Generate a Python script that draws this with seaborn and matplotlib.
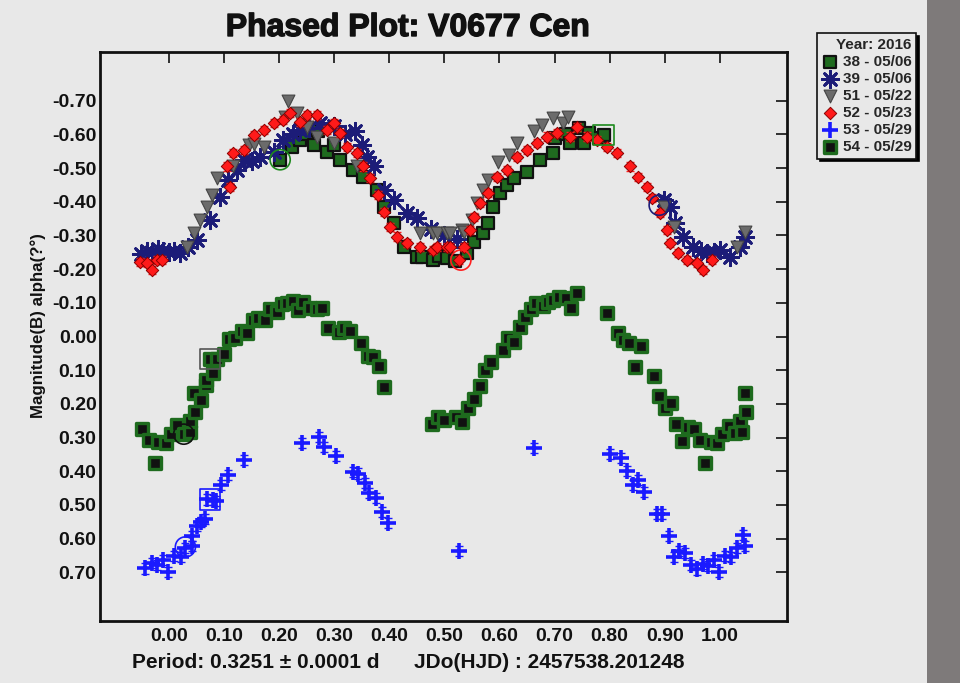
import numpy as np
import pandas as pd
import matplotlib
matplotlib.use("Agg")
import matplotlib.pyplot as plt
import matplotlib.patheffects as pe
from matplotlib import font_manager
from matplotlib.patches import Rectangle
import seaborn as sns

# Phase / magnitude values
p38 = [0.202, 0.223, 0.238, 0.245, 0.263, 0.27, 0.287, 0.30, 0.311, 0.335, 0.353, 0.378, 0.39,
       0.408, 0.426, 0.45, 0.46, 0.48, 0.49, 0.505, 0.52, 0.541, 0.553, 0.571, 0.58, 0.589, 0.601,
       0.614, 0.626, 0.65, 0.674, 0.698, 0.70, 0.72, 0.728, 0.744, 0.753, 0.762, 0.78, 0.789]
m38 = [-0.525, -0.564, -0.584, -0.60, -0.569, -0.61, -0.549, -0.57, -0.525, -0.495, -0.475, -0.435, -0.386,
       -0.336, -0.267, -0.237, -0.235, -0.227, -0.24, -0.232, -0.225, -0.247, -0.282, -0.307, -0.336, -0.386, -0.425,
       -0.45, -0.47, -0.49, -0.525, -0.544, -0.59, -0.60, -0.574, -0.619, -0.574, -0.604, -0.59, -0.599]

p39 = [-0.05, -0.04, -0.03, -0.02, -0.01, 0.0, 0.01, 0.021, 0.035, 0.051, 0.075, 0.093, 0.108, 0.124,
       0.136, 0.15, 0.166, 0.19, 0.208, 0.225, 0.238, 0.255, 0.275, 0.299, 0.32, 0.338, 0.35, 0.36,
       0.372, 0.39, 0.408, 0.432, 0.45, 0.475, 0.5, 0.523, 0.898, 0.91, 0.919, 0.934, 0.952, 0.965,
       0.977, 0.99, 1.0, 1.019, 1.037, 1.046]
m39 = [-0.245, -0.255, -0.25, -0.26, -0.255, -0.25, -0.255, -0.247, -0.265, -0.287, -0.346, -0.415, -0.465, -0.495,
       -0.525, -0.52, -0.534, -0.549, -0.584, -0.60, -0.614, -0.62, -0.634, -0.624, -0.60, -0.609, -0.57, -0.534,
       -0.505, -0.435, -0.406, -0.366, -0.351, -0.32, -0.30, -0.29, -0.406, -0.386, -0.336, -0.297, -0.267, -0.255,
       -0.247, -0.25, -0.257, -0.237, -0.267, -0.297]

p51 = [0.033, 0.045, 0.057, 0.069, 0.078, 0.087, 0.117, 0.145, 0.155, 0.172, 0.211, 0.217, 0.232, 0.251,
       0.269, 0.299, 0.341, 0.456, 0.48, 0.487, 0.505, 0.511, 0.532, 0.535, 0.55, 0.559, 0.571, 0.58,
       0.598, 0.617, 0.632, 0.662, 0.677, 0.698, 0.716, 0.725, 0.898, 0.916, 1.031, 1.046]
m51 = [-0.267, -0.307, -0.346, -0.386, -0.42, -0.47, -0.505, -0.569, -0.573, -0.564, -0.653, -0.698, -0.663, -0.623,
       -0.594, -0.574, -0.505, -0.307, -0.307, -0.307, -0.307, -0.307, -0.317, -0.311, -0.346, -0.396, -0.435, -0.465,
       -0.519, -0.539, -0.574, -0.609, -0.629, -0.648, -0.634, -0.653, -0.386, -0.326, -0.267, -0.311]

p52 = [-0.052, -0.04, -0.031, -0.022, -0.013, 0.105, 0.111, 0.117, 0.136, 0.154, 0.172, 0.19, 0.208, 0.22,
       0.238, 0.251, 0.269, 0.287, 0.299, 0.311, 0.323, 0.341, 0.353, 0.365, 0.38, 0.39, 0.402, 0.414,
       0.432, 0.456, 0.48, 0.487, 0.505, 0.511, 0.526, 0.535, 0.547, 0.553, 0.565, 0.58, 0.596, 0.614,
       0.632, 0.65, 0.668, 0.686, 0.704, 0.728, 0.741, 0.759, 0.777, 0.795, 0.813, 0.837, 0.852, 0.868,
       0.877, 0.892, 0.904, 0.91, 0.925, 0.94, 0.958, 0.97, 0.986]
m52 = [-0.222, -0.217, -0.198, -0.227, -0.227, -0.505, -0.445, -0.544, -0.554, -0.599, -0.614, -0.634, -0.643, -0.663,
       -0.638, -0.658, -0.658, -0.614, -0.634, -0.604, -0.564, -0.544, -0.505, -0.47, -0.42, -0.37, -0.326, -0.297,
       -0.277, -0.267, -0.257, -0.267, -0.267, -0.267, -0.227, -0.267, -0.317, -0.356, -0.396, -0.425, -0.475, -0.495,
       -0.534, -0.554, -0.574, -0.594, -0.604, -0.594, -0.623, -0.594, -0.584, -0.564, -0.544, -0.505, -0.475, -0.445,
       -0.411, -0.366, -0.317, -0.277, -0.247, -0.227, -0.217, -0.198, -0.227]

p53 = [-0.043, -0.031, -0.022, -0.010, -0.001, 0.009, 0.022, 0.030, 0.042, 0.042, 0.051, 0.058, 0.066,
       0.070, 0.080, 0.086, 0.095, 0.107, 0.137, 0.242, 0.272, 0.282, 0.303, 0.334, 0.344, 0.356, 0.364,
       0.376, 0.387, 0.397, 0.527, 0.662, 0.800, 0.821, 0.831, 0.842, 0.851, 0.863, 0.886, 0.895, 0.907,
       0.916, 0.926, 0.937, 0.948, 0.959, 0.969, 0.978, 0.990, 0.999, 1.010, 1.020, 1.031, 1.045, 1.042]
m53 = [0.689, 0.674, 0.679, 0.664, 0.699, 0.652, 0.656, 0.629, 0.623, 0.593, 0.563, 0.550, 0.543,
       0.484, 0.486, 0.488, 0.441, 0.412, 0.367, 0.316, 0.298, 0.329, 0.355, 0.402, 0.407, 0.436, 0.466,
       0.481, 0.521, 0.555, 0.637, 0.332, 0.350, 0.362, 0.399, 0.441, 0.426, 0.461, 0.528, 0.528, 0.593,
       0.656, 0.636, 0.644, 0.679, 0.692, 0.676, 0.682, 0.664, 0.699, 0.652, 0.656, 0.629, 0.623, 0.590]

p54 = [-0.048, -0.036, -0.026, -0.019, -0.005, 0.003, 0.015, 0.027, 0.038, 0.038, 0.048, 0.046, 0.059,
       0.068, 0.068, 0.080, 0.075, 0.088, 0.10, 0.110, 0.12, 0.133, 0.142, 0.153, 0.162, 0.174, 0.184,
       0.196, 0.205, 0.214, 0.225, 0.235, 0.244, 0.257, 0.269, 0.278, 0.288, 0.308, 0.317, 0.329, 0.349,
       0.361, 0.370, 0.381, 0.391, 0.477, 0.489, 0.50, 0.522, 0.532, 0.543, 0.553, 0.564, 0.574, 0.585,
       0.606, 0.615, 0.626, 0.637, 0.647, 0.658, 0.667, 0.679, 0.688, 0.698, 0.709, 0.721, 0.730, 0.741,
       0.795, 0.815, 0.824, 0.836, 0.857, 0.846, 0.880, 0.889, 0.901, 0.911, 0.921, 0.932, 0.943, 0.953,
       0.964, 0.973, 0.984, 0.995, 1.004, 1.016, 1.028, 1.037, 1.040, 1.048, 1.046]
m54 = [0.276, 0.308, 0.377, 0.313, 0.317, 0.29, 0.263, 0.29, 0.283, 0.25, 0.225, 0.169, 0.189,
       0.144, 0.128, 0.109, 0.068, 0.068, 0.052, 0.008, 0.005, -0.017, -0.01, -0.049, -0.056, -0.049, -0.081,
       -0.074, -0.097, -0.1, -0.106, -0.079, -0.103, -0.084, -0.081, -0.084, -0.024, -0.014, -0.024, -0.017, 0.018,
       0.058, 0.062, 0.088, 0.151, 0.26, 0.238, 0.248, 0.240, 0.253, 0.213, 0.186, 0.147, 0.1, 0.075,
       0.04, 0.005, 0.015, -0.029, -0.059, -0.081, -0.099, -0.091, -0.103, -0.108, -0.116, -0.113, -0.084, -0.128,
       -0.069, -0.01, 0.01, 0.018, 0.028, 0.092, 0.116, 0.177, 0.213, 0.197, 0.26, 0.31, 0.268, 0.276,
       0.308, 0.377, 0.313, 0.316, 0.29, 0.266, 0.288, 0.25, 0.283, 0.223, 0.169]

# highlighted points (hollow rings / boxes)
ring_x = [0.202, 0.789, 0.075, 0.027, 0.075, 0.030, 0.530, 0.890]
ring_y = [-0.525, -0.599, 0.068, 0.290, 0.484, 0.625, -0.227, -0.390]
ring_color = ['#1e8a1e', '#1e8a1e', '#555555', '#111111', '#1a1aff', '#1a1aff', '#ff2020', '#1c1c78']
ring_marker = ['o', 's', 's', 'o', 's', 'o', 'o', 'o']

x_ticks = [0.0, 0.1, 0.2, 0.3, 0.4, 0.5, 0.6, 0.7, 0.8, 0.9, 1.0]
y_ticks = [-0.7, -0.6, -0.5, -0.4, -0.3, -0.2, -0.1, 0.0, 0.1, 0.2, 0.3, 0.4, 0.5, 0.6, 0.7]

sns.set_style("white")
plt.rcParams['font.family'] = ['Liberation Sans', 'DejaVu Sans']
plt.rcParams['font.weight'] = 'bold'

# the reference uses a condensed bold face for the axis label and footer
installed = {f.name for f in font_manager.fontManager.ttflist}
if 'Liberation Sans Narrow' in installed:
    narrow = ['Liberation Sans Narrow', 'DejaVu Sans']
    ylab_size, foot_size = 14.8, 18.2
else:
    narrow = ['Liberation Sans', 'DejaVu Sans']
    ylab_size, foot_size = 12.2, 15

bg = '#e8e8e8'
ink = '#111111'
fig = plt.figure(figsize=(9.6, 6.83), dpi=100, facecolor=bg)
ax = fig.add_axes([100 / 960, 1 - 621 / 683, 687 / 960, 569 / 683])
ax.set_facecolor(bg)

# dark strip at the right edge
fig.patches.append(Rectangle((927 / 960, 0), 33 / 960, 1, transform=fig.transFigure,
                             facecolor='#7e7a7a', edgecolor='none', zorder=0))

sns.scatterplot(x=p38, y=m38, ax=ax, marker='s', s=78, color='#1f6b1f',
                edgecolor=ink, linewidth=1.6, label='38 - 05/06', zorder=3)
sns.scatterplot(x=p39, y=m39, ax=ax, marker=(8, 2, 0), s=140, color='#1c1c78',
                linewidth=2.0, label='39 - 05/06', zorder=4)
sns.scatterplot(x=p51, y=m51, ax=ax, marker='v', s=85, color='#6b6b6b',
                edgecolor='#444444', linewidth=0.8, label='51 - 05/22', zorder=5)
ax.errorbar(p52, m52, yerr=0.012, fmt='none', ecolor='#ff2020', elinewidth=1, capsize=3, zorder=5)
sns.scatterplot(x=p52, y=m52, ax=ax, marker='D', s=40, color='#ff1a1a',
                edgecolor='#8a0000', linewidth=0.7, label='52 - 05/23', zorder=6)
ax.errorbar(p53, m53, yerr=0.015, fmt='none', ecolor='#1a1aff', elinewidth=1.5, capsize=3, zorder=5)
sns.scatterplot(x=p53, y=m53, ax=ax, marker='+', s=120, color='#1a1aff',
                linewidth=2.6, label='53 - 05/29', zorder=6)
sns.scatterplot(x=p54, y=m54, ax=ax, marker='s', s=66, color=ink,
                edgecolor='#1e6b1e', linewidth=2.4, label='54 - 05/29', zorder=3)

for rx, ry, rc, rm in zip(ring_x, ring_y, ring_color, ring_marker):
    ax.scatter([rx], [ry], marker=rm, s=210, facecolors='none', edgecolors=rc, linewidths=1.2, zorder=7)

ax.set_xlim(-0.125, 1.122)
ax.set_ylim(0.845, -0.845)
ax.set_xticks(x_ticks)
ax.set_xticklabels([f"{v:.2f}" for v in x_ticks])
ax.set_yticks(y_ticks)
ax.set_yticklabels([f"{v:.2f}" for v in y_ticks])
ax.tick_params(direction='in', length=8, width=1.2, top=True, right=True,
               labelsize=14, colors=ink)
ax.tick_params(axis='y', pad=2.5)
ax.tick_params(axis='x', pad=5)
for lab in ax.get_xticklabels() + ax.get_yticklabels():
    lab.set_fontweight('bold')
for sp in ax.spines.values():
    sp.set_linewidth(2)
    sp.set_color(ink)

ax.set_xlabel('')
ax.set_ylabel('Magnitude(B) alpha(?°)', fontsize=ylab_size, fontweight='bold',
              family=narrow, color=ink)
ax.yaxis.set_label_coords(-0.079, 0.52)

fig.text(408 / 960, 1 - 28 / 683, 'Phased Plot: V0677 Cen', ha='center', va='center',
         fontsize=23, fontweight='bold', color=ink,
         path_effects=[pe.withStroke(linewidth=1.0, foreground=ink)])
fig.text(132 / 960, 1 - 663 / 683,
         'Period: 0.3251 \u00b1 0.0001 d      JDo(HJD) : 2457538.201248',
         ha='left', va='center', fontsize=foot_size, fontweight='bold', family=narrow, color=ink)

leg = ax.legend(title='Year: 2016', loc='upper left', bbox_to_anchor=(817 / 960, 1 - 33 / 683),
                bbox_transform=fig.transFigure, frameon=True, fancybox=False,
                shadow={'color': 'black', 'alpha': 1}, borderpad=0.3, labelspacing=0.2,
                handletextpad=0.3, handlelength=1.1, borderaxespad=0, alignment='right',
                prop={'size': 11, 'weight': 'bold'},
                title_fontproperties={'size': 11, 'weight': 'bold'})
leg.get_frame().set_facecolor(bg)
leg.get_frame().set_edgecolor(ink)
leg.get_frame().set_linewidth(1.2)
leg.get_frame().set_alpha(1)

fig.savefig('out.png', dpi=100, facecolor=bg)
